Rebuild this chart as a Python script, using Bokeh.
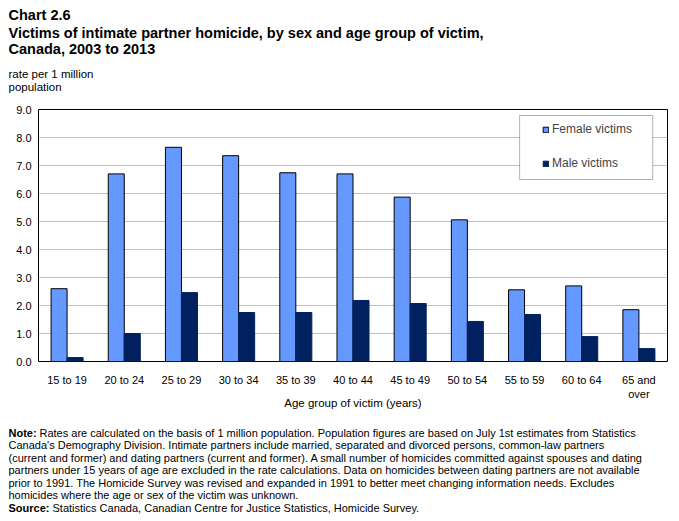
from bokeh.plotting import figure
from bokeh.layouts import column
from bokeh.models import (Legend, LegendItem, BoxAnnotation, FactorRange,
                          NumeralTickFormatter, FixedTicker, ColumnDataSource, Range1d)
from bokeh.core.properties import value
from bokeh.transform import dodge
from bokeh.embed import file_html
from bokeh.resources import INLINE

# ---- data ----
age_groups = ["15 to 19", "20 to 24", "25 to 29", "30 to 34", "35 to 39", "40 to 44",
              "45 to 49", "50 to 54", "55 to 59", "60 to 64", "65 and\nover"]
female_victims = [2.60, 6.70, 7.65, 7.35, 6.74, 6.70, 5.87, 5.06, 2.56, 2.70, 1.85]
male_victims = [0.14, 1.00, 2.46, 1.75, 1.75, 2.18, 2.07, 1.43, 1.68, 0.89, 0.46]
y_ticks = [0, 1, 2, 3, 4, 5, 6, 7, 8, 9]
series_names = ["Female victims", "Male victims"]

title_lines = ["Chart 2.6",
               "Victims of intimate partner homicide, by sex and age group of victim,",
               "Canada, 2003 to 2013"]
unit_lines = ["rate per 1 million", "population"]
x_title = "Age group of victim (years)"
note_lines = [
    ("Note:", "Rates are calculated on the basis of 1 million population. Population figures are based on July 1st estimates from Statistics"),
    ("", "Canada's Demography Division.  Intimate partners include married, separated and divorced persons, common-law partners"),
    ("", "(current and former) and dating partners (current and former).  A small number of homicides committed against spouses and dating"),
    ("", "partners under 15 years of  age are excluded in the rate calculations. Data on homicides between dating partners are not available"),
    ("", "prior to 1991. The Homicide Survey was revised and expanded in 1991 to better meet  changing information needs.  Excludes"),
    ("", "homicides where the age or sex of the victim was unknown."),
    ("Source:", "Statistics Canada, Canadian Centre for Justice Statistics, Homicide Survey."),
]

FONT = "Liberation Sans"
FEMALE_COLOR = "#6699FF"
MALE_COLOR = "#002060"
W = 679
HEADER_H = 100          # page y 0..100
CHART_H = 321           # page y 100..421
NOTES_TOP = HEADER_H + CHART_H
NOTES_H = 521 - NOTES_TOP


def text_panel(height, top):
    f = figure(width=W, height=height, output_backend="svg", toolbar_location=None,
               x_range=Range1d(0, W), y_range=Range1d(top + height, top),
               x_axis_type=None, y_axis_type=None, min_border=0, frame_align=False,
               outline_line_color=None, background_fill_color="white",
               border_fill_color="white")
    f.grid.visible = False
    return f


def put(f, txt, x, y, size="11px", style="normal", align="left"):
    f.text(x=[x], y=[y], text=[txt], text_font=value(FONT), text_font_size=size,
           text_font_style=style, text_align=align, text_baseline="middle",
           text_color="black")


# ---- header ----
header = text_panel(HEADER_H, 0)
for txt, py in zip(title_lines, [14, 32, 48]):
    put(header, txt, 8, py, size="14.5px", style="bold")
for txt, py in zip(unit_lines, [73, 86]):
    put(header, txt, 8, py, size="11.5px")

# ---- chart ----
src = ColumnDataSource(dict(age=age_groups, female=female_victims, male=male_victims))
p = figure(width=W, height=CHART_H, output_backend="svg", toolbar_location=None,
           x_range=FactorRange(*age_groups, range_padding=0),
           y_range=Range1d(0, 9), frame_align=False,
           min_border_left=38, min_border_right=W - 667, min_border_top=109 - HEADER_H,
           min_border_bottom=NOTES_TOP - 361,
           background_fill_color="white", border_fill_color="white")
p.outline_line_color = "black"
p.outline_line_width = 1

rf = p.vbar(x=dodge("age", -0.14, range=p.x_range), top="female", width=0.28, source=src,
            fill_color=FEMALE_COLOR, line_color="black", line_width=1)
rm = p.vbar(x=dodge("age", 0.14, range=p.x_range), top="male", width=0.28, source=src,
            fill_color=MALE_COLOR, line_color=MALE_COLOR, line_width=1)

p.xgrid.grid_line_color = None
p.ygrid.grid_line_color = "#C0C0C0"
p.ygrid.grid_line_width = 1
p.yaxis.ticker = FixedTicker(ticks=y_ticks)
p.yaxis.formatter = NumeralTickFormatter(format="0.0")
for ax in (p.xaxis[0], p.yaxis[0]):
    ax.axis_line_color = None
    ax.major_tick_line_color = None
    ax.minor_tick_line_color = None
    ax.major_tick_out = 0
    ax.major_tick_in = 0
    ax.major_label_text_font = FONT
    ax.major_label_text_font_size = "11px"
    ax.major_label_text_color = "black"
p.yaxis.major_label_standoff = 7
p.xaxis.major_label_standoff = 12
p.xaxis.axis_label = x_title
p.xaxis.axis_label_text_font = FONT
p.xaxis.axis_label_text_font_size = "11.5px"
p.xaxis.axis_label_text_font_style = "normal"
p.xaxis.axis_label_text_color = "black"
p.xaxis.axis_label_standoff = -6

# legend frame (box in data space) + legend entries
p.add_layout(BoxAnnotation(left=(519 - 38.3) / 57.13, right=(652 - 38.3) / 57.13,
                           top=(361 - 115) / 28.0, bottom=(361 - 179) / 28.0,
                           fill_color="white", fill_alpha=1, line_color="black", line_width=1,
                           level="overlay"))
legend = Legend(items=[LegendItem(label=series_names[0], renderers=[rf]),
                       LegendItem(label=series_names[1], renderers=[rm])],
                location=(542 - 38, 361 - 170), padding=0, margin=0, spacing=20,
                glyph_width=7, glyph_height=7, label_standoff=3, label_height=13,
                label_text_font=FONT, label_text_font_size="12px",
                border_line_color=None, background_fill_alpha=0)
p.add_layout(legend)

# ---- notes ----
notes = text_panel(NOTES_H, NOTES_TOP)
note_y = [432, 444.5, 457, 469.5, 482, 494.5, 507]
for (bold, rest), py in zip(note_lines, note_y):
    if bold:
        put(notes, bold, 8, py, size="11px", style="bold")
        put(notes, rest, 8 + (31 if bold == "Note:" else 44), py, size="11px")
    else:
        put(notes, rest, 8, py, size="11px")

layout = column(header, p, notes, spacing=0)
open("out.html", "w").write(file_html(layout, INLINE))
